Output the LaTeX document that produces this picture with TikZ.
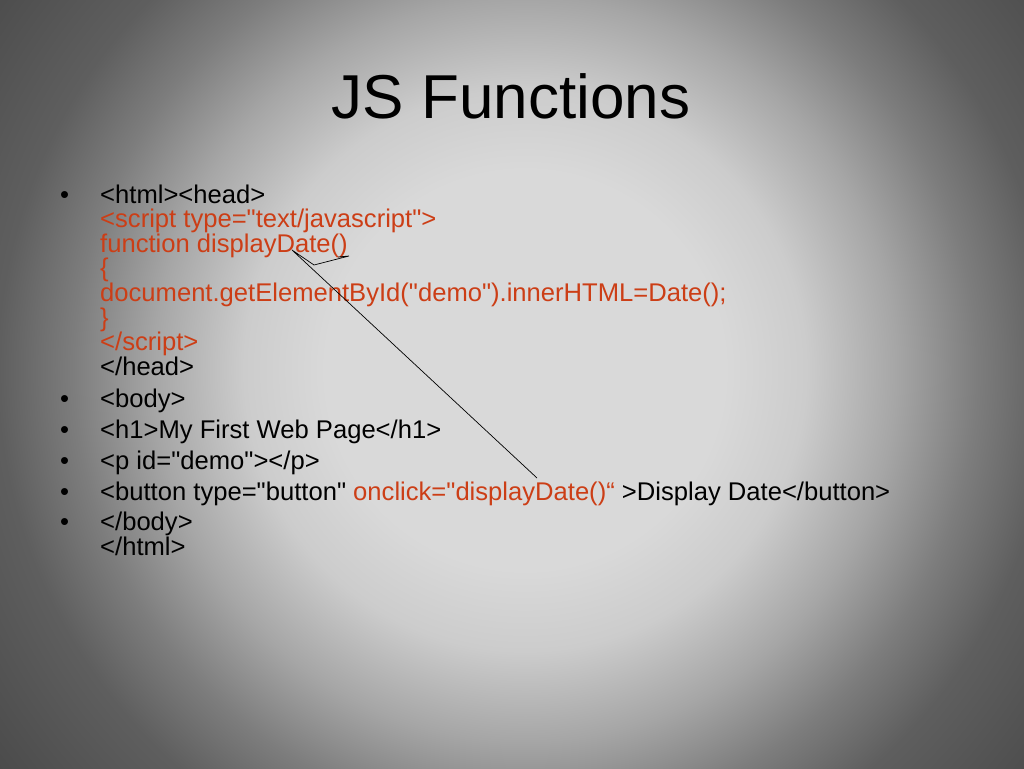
\documentclass[tikz,border=0pt]{standalone}
\usepackage{fontspec}
\setmainfont{Liberation Sans}[Ligatures=TeXOff]
\definecolor{codered}{RGB}{204,62,22}
\definecolor{bgin}{gray}{0.85}
\definecolor{bgmid}{gray}{0.80}
\definecolor{bgmtwo}{gray}{0.65}
\definecolor{bgmthree}{gray}{0.49}
\definecolor{bgmfour}{gray}{0.37}
\definecolor{bgout}{gray}{0.27}
\pgfdeclareradialshading{slideglow}{\pgfpoint{0bp}{0bp}}{color(0bp)=(bgin); color(200bp)=(bgin); color(280bp)=(bgmid); color(370bp)=(bgmtwo); color(450bp)=(bgmthree); color(525bp)=(bgmfour); color(700bp)=(bgout)}
\tikzset{
  line/.style={anchor=base west, inner sep=0pt, font=\fontsize{25.6}{24.6}\selectfont},
  code/.style={line, text=codered},
  dot/.style={anchor=base west, inner sep=0pt, font=\fontsize{25.6}{24.6}\selectfont}
}
\begin{document}
\begin{tikzpicture}[x=1pt,y=-1pt]
        \useasboundingbox (0,0) rectangle (1024,768);
        \begin{scope}
            \clip (0,0) rectangle (1024,768);
            \node[inner sep=0pt] (glow) at (525,370) {\pgfuseshading{slideglow}};
        \end{scope}
        \node[anchor=base, inner sep=0pt, font=\fontsize{62}{62}\selectfont] (title) at (511,118) {JS Functions};
        % head part
        \node[dot] (b1) at (60,203) {•};
        \node[line] (html) at (100,203) {<html><head>};
        \node[code] (script) at (100,227.6) {<script type="text/javascript">};
        \node[code] (func) at (100,252.2) {function displayDate()};
        \node[code] (open) at (100,276.8) {\{};
        \node[code] (doc) at (100,301.4) {document.getElementById("demo").innerHTML=Date();};
        \node[code] (close) at (100,326) {\}};
        \node[code] (endscript) at (100,350.6) {</script>};
        \node[line] (endhead) at (100,375.2) {</head>};
        % body part
        \node[dot] (b2) at (60,407) {•};
        \node[line] (body) at (100,407) {<body>};
        \node[dot] (b3) at (60,438) {•};
        \node[line] (hone) at (100,438) {<h1>My First Web Page</h1>};
        \node[dot] (b4) at (60,469) {•};
        \node[line] (para) at (100,469) {<p id="demo"></p>};
        \node[dot] (b5) at (60,500) {•};
        \node[line] (button) at (100,500) {<button type="button" \textcolor{codered}{onclick="displayDate()“} >Display Date</button>};
        \node[dot] (b6) at (60,530) {•};
        \node[line] (endbody) at (100,530) {</body>};
        \node[line] (endhtml) at (100,555) {</html>};
        % callout
        \coordinate (tip) at (292,250);
        \coordinate (call) at (537,478);
        \coordinate (k1) at (314,265);
        \coordinate (k2) at (349,256);
        \coordinate (k3) at (338,257);
        \draw[line width=0.7pt] (call) -- (tip) -- (k1) -- (k2) -- (k3);
    \end{tikzpicture}
\end{document}
